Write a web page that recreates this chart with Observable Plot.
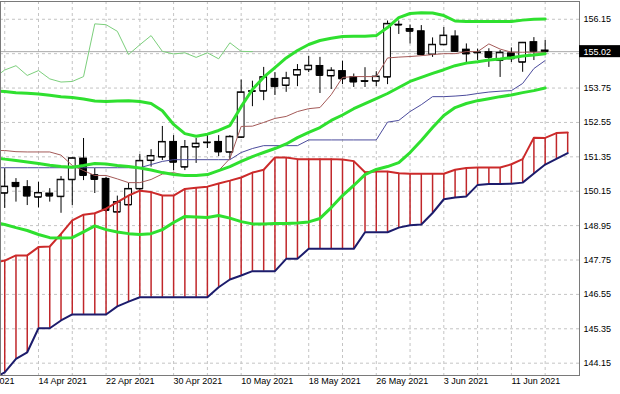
<!DOCTYPE html>
<html>
<head>
<meta charset="utf-8">
<script src="https://cdn.jsdelivr.net/npm/d3@7"></script>
<script src="https://cdn.jsdelivr.net/npm/@observablehq/plot@0.6"></script>
<style>
  html, body { margin: 0; padding: 0; background: #ffffff; }
  #chart svg { display: block; }
</style>
</head>
<body>
<div id="chart"></div>
<script>
// ---- Data (daily bars; bar index 0 = 14 Apr 2021) ----
const candleStart = -3;   // first candle = 9 Apr 2021
const opens  = [150.08,150.44,150.29,149.94,150.07,149.96,150.55,151.29,150.71,150.58,149.42,149.67,150.23,151.22,151.34,151.87,150.99,151.69,151.84,151.87,151.51,152.03,153.63,153.64,154.07,153.84,154.20,154.39,154.52,154.17,154.34,154.13,153.99,153.99,154.13,155.95,155.81,155.73,154.92,155.26,155.55,155.09,154.99,155.00,154.71,154.96,154.65,155.35,155.06];
const highs  = [150.94,150.59,150.52,150.46,150.24,150.66,151.33,151.99,150.94,150.63,149.98,150.42,151.43,151.60,152.41,152.09,151.92,151.99,152.13,152.09,152.09,154.03,153.99,154.47,154.29,154.30,154.57,154.85,154.82,154.46,154.69,154.24,154.46,154.32,156.09,156.09,155.95,155.93,155.50,155.86,155.75,155.29,155.11,155.12,155.06,155.15,155.34,155.51,155.41];
const lows   = [149.55,149.77,149.65,149.57,149.77,149.38,149.65,150.52,150.07,149.41,149.37,149.58,150.17,150.99,151.22,150.87,150.87,151.12,151.64,151.36,151.26,151.99,153.10,153.31,153.49,153.60,153.80,154.29,153.56,153.70,153.87,153.77,153.77,153.80,153.87,155.62,155.29,154.87,154.82,155.23,154.99,154.57,154.71,154.47,154.12,154.64,154.30,154.71,154.94];
const closes = [150.31,150.31,149.98,150.09,149.98,150.55,151.30,150.70,150.56,149.48,149.77,150.23,151.21,151.38,151.87,151.16,151.69,151.81,151.85,151.52,152.05,153.60,153.64,154.13,153.80,154.09,154.38,154.53,154.19,154.36,154.07,153.96,153.98,154.15,155.99,155.96,155.73,154.92,155.26,155.58,155.03,154.94,154.98,154.82,154.98,154.77,155.33,155.03,155.02];

// Indicator series start one bar earlier (index -4)
const lineStart = -4;
const bbUpper  = [153.64,153.63,153.59,153.57,153.54,153.50,153.45,153.42,153.37,153.30,153.28,153.30,153.31,153.28,153.21,152.96,152.48,152.16,152.07,152.14,152.27,152.44,153.10,153.70,154.13,154.46,154.80,155.06,155.27,155.41,155.49,155.55,155.56,155.56,155.58,155.86,156.21,156.35,156.38,156.37,156.28,156.09,156.07,156.07,156.07,156.07,156.07,156.12,156.15,156.16];
const bbMiddle = [151.33,151.27,151.22,151.17,151.12,151.06,151.01,150.99,151.05,151.12,151.10,151.05,151.01,150.96,150.89,150.80,150.73,150.70,150.70,150.73,150.87,151.01,151.19,151.36,151.50,151.64,151.80,152.02,152.20,152.37,152.62,152.81,153.03,153.21,153.38,153.56,153.77,153.98,154.12,154.26,154.39,154.53,154.62,154.67,154.73,154.76,154.81,154.87,154.90,154.95];
const bbLower  = [149.06,148.99,148.88,148.78,148.64,148.53,148.52,148.53,148.73,148.94,148.81,148.73,148.67,148.64,148.67,148.81,149.06,149.27,149.25,149.23,149.30,149.21,149.09,149.01,149.01,149.02,149.02,149.04,149.08,149.20,149.58,150.00,150.35,150.73,150.91,151.01,151.15,151.50,151.92,152.37,152.79,153.07,153.21,153.31,153.38,153.45,153.51,153.59,153.66,153.75];
const tenkan   = [151.57,151.57,151.53,151.52,151.52,151.52,151.41,151.05,150.87,150.70,150.70,150.58,150.45,150.45,150.56,150.75,150.80,150.70,150.70,150.70,150.87,151.29,152.41,152.42,152.55,152.69,152.76,152.93,153.03,153.07,153.52,154.12,154.15,154.15,154.15,154.80,154.83,154.85,154.88,154.92,154.95,154.95,155.02,155.02,155.29,155.11,155.00,155.00,155.00,155.00];
const kijun    = [150.97,150.97,150.97,150.97,150.97,150.97,150.97,150.97,150.97,150.97,150.97,150.97,150.97,150.97,151.08,151.19,151.25,151.25,151.25,151.25,151.25,151.25,151.50,151.64,151.74,151.74,151.74,151.74,151.94,151.94,151.94,151.94,151.94,151.94,151.94,152.56,152.62,152.93,153.17,153.45,153.45,153.47,153.50,153.56,153.61,153.64,153.66,153.91,154.43,154.71];
// Senkou spans run two bars past the last candle (index -4 .. 47)
const spanA    = [147.66,147.73,147.91,147.91,148.20,148.22,148.66,149.13,149.33,149.38,149.54,149.77,150.00,150.17,150.12,150.00,150.00,150.23,150.27,150.31,150.42,150.52,150.63,150.80,150.90,151.33,151.33,151.27,151.27,151.27,151.27,151.26,151.20,150.81,150.84,150.84,150.78,150.76,150.76,150.76,150.76,150.90,150.96,150.98,150.98,150.98,151.09,151.27,152.02,152.01,152.18,152.20];
const spanB    = [143.62,143.83,144.30,144.53,145.37,145.37,145.64,145.85,145.85,145.85,145.85,146.13,146.30,146.45,146.45,146.45,146.45,146.45,146.45,146.45,146.80,147.07,147.21,147.36,147.36,147.36,147.79,147.79,148.14,148.14,148.14,148.14,148.14,148.72,148.72,148.72,148.88,148.96,148.99,149.39,149.87,149.93,149.97,150.37,150.40,150.40,150.41,150.45,150.77,151.08,151.28,151.48];
const chikouShift = 26;   // lagging span: close plotted 26 bars back

// Axis labels
const yTickValues = [144.15,145.35,146.55,147.75,148.95,150.15,151.35,152.55,153.75,154.95,156.15];
const yTickLabels = [144.15,145.35,146.55,147.75,148.95,150.15,151.35,152.55,153.75,156.15];
const xGridIdx = [-3,0,3,6,9,12,15,18,21,24,27,30,33,36,39,42,45];
const xLabelIdx = [-6,0,6,12,18,24,30,36,42];
const xLabels = ["6 Apr 2021","14 Apr 2021","22 Apr 2021","30 Apr 2021","10 May 2021","18 May 2021","26 May 2021","3 Jun 2021","11 Jun 2021"];
const lastPrice = 155.02;

// ---- Build tables ----
const bars = opens.map((o, k) => ({i: candleStart + k, o, h: highs[k], l: lows[k], c: closes[k]}));
const series = arr => arr.map((v, k) => ({i: lineStart + k, v}));
const cloud = spanA.map((a, k) => ({i: lineStart + k, a, b: spanB[k]}));
const chikou = bars.filter(d => d.i - chikouShift >= lineStart).map(d => ({i: d.i - chikouShift, v: d.c}));

const xDomain = [-3.375, 48.05];
const yDomain = [143.72, 156.77];
const boxWidth = 3.65;  // price tag width in bar units
const half = 0.3;       // candle half-width in bar units

const grid = {stroke: "#c4c4c4", strokeDasharray: "3,3", strokeWidth: 1};

const chart = Plot.plot({
  width: 620,
  height: 394,
  marginLeft: 0,
  marginRight: 41,
  marginTop: 1,
  marginBottom: 19,
  x: {type: "linear", domain: xDomain, axis: null},
  y: {type: "linear", domain: yDomain, axis: null},
  style: {fontFamily: "'Liberation Sans', Arial, sans-serif", fontSize: "9px", background: "#ffffff", color: "#000"},
  marks: [
    Plot.ruleY(yTickValues, grid),
    Plot.ruleX(xGridIdx, grid),
    Plot.ruleY([lastPrice], {stroke: "#a9a9a9", strokeWidth: 1}),
    // Candles
    Plot.ruleX(bars, {x: "i", y1: "l", y2: "h", stroke: "#000", strokeWidth: 1}),
    Plot.rect(bars, {x1: d => d.i - half, x2: d => d.i + half, y1: "o", y2: "c",
      fill: d => d.c >= d.o ? "#ffffff" : "#000000", stroke: "#000", strokeWidth: 1}),
    Plot.ruleY(bars, {y: "o", x1: d => d.i - half, x2: d => d.i + half, stroke: "#000"}),
    Plot.ruleY(bars, {y: "c", x1: d => d.i - half, x2: d => d.i + half, stroke: "#000"}),
    // Ichimoku cloud
    Plot.ruleX(cloud, {x: "i", y1: "a", y2: "b", stroke: "#c0262a", strokeWidth: 1.5, clip: true}),
    Plot.line(cloud, {x: "i", y: "b", stroke: "#1c1c6c", strokeWidth: 2, clip: true}),
    Plot.line(cloud, {x: "i", y: "a", stroke: "#cc2a2a", strokeWidth: 2, clip: true}),
    // Kijun / Tenkan
    Plot.line(series(kijun), {x: "i", y: "v", stroke: "#4b4b9c", strokeWidth: 1, clip: true}),
    Plot.line(series(tenkan), {x: "i", y: "v", stroke: "#a45a58", strokeWidth: 1, clip: true}),
    // Bollinger bands
    Plot.line(series(bbUpper), {x: "i", y: "v", stroke: "#2fe02f", strokeWidth: 3, clip: true}),
    Plot.line(series(bbMiddle), {x: "i", y: "v", stroke: "#2fe02f", strokeWidth: 3, clip: true}),
    Plot.line(series(bbLower), {x: "i", y: "v", stroke: "#2fe02f", strokeWidth: 3, clip: true}),
    // Chikou span
    Plot.line(chikou, {x: "i", y: "v", stroke: "#7ccf7c", strokeWidth: 1, clip: true}),
    Plot.frame({stroke: "#7a7a7a"}),
    // Axis labels
    Plot.text(xLabelIdx, {x: d => d, text: (d, k) => xLabels[k], frameAnchor: "bottom", dy: 8, textAnchor: "start", fill: "#000"}),
    Plot.text(yTickLabels, {y: d => d, text: d => d.toFixed(2), frameAnchor: "right", dx: 4, textAnchor: "start", fill: "#000"}),
    Plot.rect([lastPrice], {x1: xDomain[1], x2: xDomain[1] + boxWidth, y1: d => d - 0.21, y2: d => d + 0.21, fill: "#000"}),
    Plot.text([lastPrice], {y: d => d, text: d => d.toFixed(2), frameAnchor: "right", dx: 4, textAnchor: "start", fill: "#fff"})
  ]
});
document.getElementById("chart").appendChild(chart);
</script>
</body>
</html>
